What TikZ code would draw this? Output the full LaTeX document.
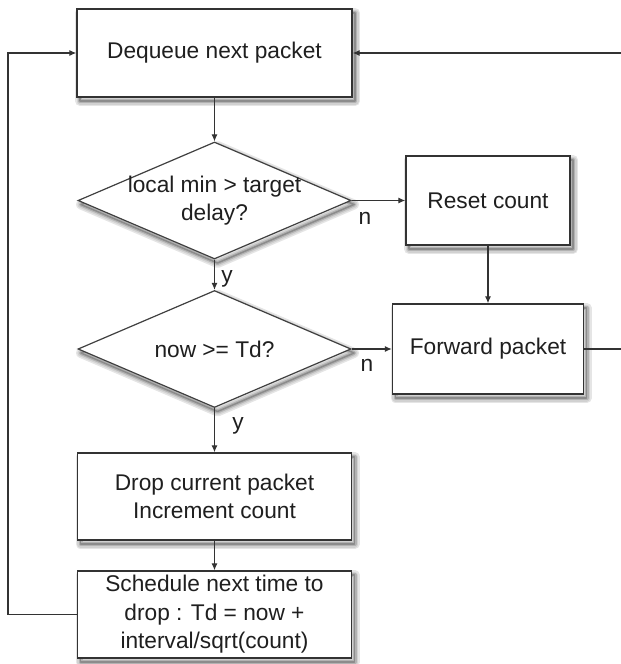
\documentclass[tikz,border=0pt]{standalone}
\usepackage{fontspec}
\setmainfont{Liberation Sans}
\usetikzlibrary{shapes.geometric,arrows.meta}
\newcommand\shrect[4]{%
  \foreach \w/\c in {10/10, 7/18, 4/30, 1.5/45} {%
    \draw[black!\c, line width=\w pt, line join=round] ({#1+3},{#2+4}) rectangle ({#3+3},{#4+4});%
  }%
}
\newcommand\shdia[4]{%
  \foreach \w/\c in {10/10, 7/18, 4/30, 1.5/45} {%
    \draw[black!\c, line width=\w pt, line join=round] ({#1+3},{#2+4-#4}) -- ({#1+3+#3},{#2+4}) -- ({#1+3},{#2+4+#4}) -- ({#1+3-#3},{#2+4}) -- cycle;%
  }%
}
\begin{document}
\begin{tikzpicture}[x=1pt,y=-1pt,
  every node/.style={font=\fontsize{22.7}{28.5}\selectfont, text=black!88},
  proc/.style={draw=black!80, line width=1.4pt, fill=white, rectangle, inner sep=0pt, align=center},
  dec/.style={draw=black!75, line width=1.2pt, fill=white, diamond, inner sep=0pt, minimum width=273pt, minimum height=117pt},
  conn/.style={draw=black!80, line width=1.1pt, -{Latex[length=7pt,width=6pt]}},
  lab/.style={inner sep=0pt, align=center}
]
\useasboundingbox (0,0) rectangle (621,664);

% shadows
\shrect{77}{9}{352}{97}
\shrect{406}{156}{570}{245}
\shrect{392.5}{304}{583.5}{394}
\shrect{77.5}{453}{351.5}{540}
\shrect{77.5}{571}{351.5}{658}
\shdia{214.5}{200.5}{136.5}{58.5}
\shdia{214.5}{349}{136.5}{58.5}

\node[proc, minimum width=275pt, minimum height=88pt] (deq) at (214.5,53) {Dequeue next packet};
\node[dec, label={[lab]center:local min > target\\delay?}] (d1) at (214.5,200.5) {};
\node[proc, minimum width=164pt, minimum height=89pt] (reset) at (488,200.5) {Reset count};
\node[dec, label={[lab]center:now >= Td?}] (d2) at (214.5,349) {};
\node[proc, minimum width=191pt, minimum height=90pt] (fwd) at (488,349) {Forward packet};
\node[proc, minimum width=274pt, minimum height=87pt] (drop) at (214.5,496.5) {Drop current packet\\Increment count};
\node[proc, minimum width=274pt, minimum height=87pt] (sched) at (214.5,614.5) {Schedule next time to\\drop : Td = now +\\interval/sqrt(count)};

\coordinate (lft) at (8,614.5);
\coordinate (rgt) at (621.6,53);

\draw[conn] (deq) -- (d1);
\draw[conn] (d1) -- (reset);
\draw[conn] (reset) -- (fwd);
\draw[conn] (d1) -- (d2);
\draw[conn] (d2) -- (fwd);
\draw[conn] (d2) -- (drop);
\draw[conn] (drop) -- (sched);
\draw[conn] (sched.west) -- (lft) |- (deq.west);
\draw[conn] (fwd.east) -- (fwd.east -| rgt) -- (rgt) -- (deq.east);

\node[lab] (n1) at (365,218) {n};
\node[lab] (n2) at (367,365) {n};
\node[lab] (y1) at (227,279) {y};
\node[lab] (y2) at (238,426) {y};
\end{tikzpicture}
\end{document}
